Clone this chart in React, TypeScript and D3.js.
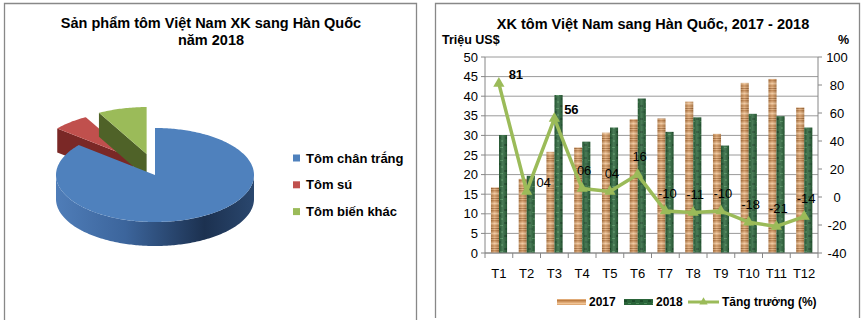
import React from 'react';
import * as d3 from 'd3';

// ---------- data ----------
const PIE_TITLE = ['Sản phẩm tôm Việt Nam XK sang Hàn Quốc', 'năm 2018'];
const PIE_LABELS = ['Tôm chân trắng', 'Tôm sú', 'Tôm biến khác'];
const PIE_VALUES = [86, 6, 8];

const BAR_TITLE = 'XK tôm Việt Nam sang Hàn Quốc, 2017 - 2018';
const LEFT_AXIS_TITLE = 'Triệu US$';
const RIGHT_AXIS_TITLE = '%';
const MONTHS = ['T1', 'T2', 'T3', 'T4', 'T5', 'T6', 'T7', 'T8', 'T9', 'T10', 'T11', 'T12'];
const SERIES = ['2017', '2018'];
const V2017 = [16.7, 18.9, 25.8, 26.9, 30.7, 34.1, 34.3, 38.6, 30.4, 43.4, 44.4, 37.1];
const V2018 = [30.1, 19.7, 40.3, 28.4, 32.0, 39.4, 30.9, 34.6, 27.4, 35.5, 34.9, 32.0];
const GROWTH = [81, 4, 56, 6, 4, 16, -10, -11, -10, -18, -21, -14];
const GROWTH_LABEL = 'Tăng trưởng (%)';

const FONT = '"Liberation Sans", Arial, sans-serif';
const PIE_COLORS = ['#4F81BD', '#C0504D', '#9BBB59'];
const PIE_WALL = ['url(#blueWall)', '#7A2826', '#4F6228'];

function fmtGrowth(v: number) {
  return v >= 0 ? String(v).padStart(2, '0') : String(v);
}

// ---------- pie (3D) ----------
function Pie3D() {
  const cx = 155, cy = 175, rx = 99, ry = 47, depth = 24, explode = 0.4;
  const pie = d3.pie<number>().sort(null).startAngle(0).endAngle(2 * Math.PI);
  const arcs = pie(PIE_VALUES);
  const pt = (a: number, ox: number, oy: number, dz = 0): [number, number] => [
    cx + ox + rx * Math.sin(a),
    cy + oy - ry * Math.cos(a) + dz,
  ];
  const line = d3.line();
  const sample = (a0: number, a1: number) => {
    const n = Math.max(2, Math.ceil(Math.abs(a1 - a0) / (Math.PI / 180)));
    return d3.range(n + 1).map((i) => a0 + ((a1 - a0) * i) / n);
  };
  const order = [1, 2, 0];
  return (
    <g>
      {order.map((i) => {
        const a = arcs[i];
        const mid = (a.startAngle + a.endAngle) / 2;
        const e = i === 0 ? 0 : explode;
        const ox = rx * e * Math.sin(mid) * 0.85;
        const oy = -ry * e * Math.cos(mid) * 1.15;
        const c: [number, number] = [cx + ox, cy + oy];
        const cd: [number, number] = [cx + ox, cy + oy + depth];
        const parts: React.ReactNode[] = [];
        const radialFill = i === 0 ? '#2B4A75' : PIE_WALL[i];
        if (Math.sin(a.startAngle) < -0.01) {
          const p = pt(a.startAngle, ox, oy);
          const pd = pt(a.startAngle, ox, oy, depth);
          parts.push(<path key="ws" d={line([c, p, pd, cd])! + 'Z'} fill={radialFill} />);
        }
        if (Math.sin(a.endAngle) > 0.01) {
          const p = pt(a.endAngle, ox, oy);
          const pd = pt(a.endAngle, ox, oy, depth);
          parts.push(<path key="we" d={line([c, p, pd, cd])! + 'Z'} fill={radialFill} />);
        }
        const w0 = Math.max(a.startAngle, Math.PI / 2);
        const w1 = Math.min(a.endAngle, (3 * Math.PI) / 2);
        if (w1 > w0) {
          const top = sample(w0, w1).map((t) => pt(t, ox, oy));
          const bot = sample(w0, w1).reverse().map((t) => pt(t, ox, oy, depth));
          parts.push(<path key="wo" d={line([...top, ...bot])! + 'Z'} fill={PIE_WALL[i]} />);
        }
        const face = [c, ...sample(a.startAngle, a.endAngle).map((t) => pt(t, ox, oy))];
        parts.push(<path key="top" d={line(face)! + 'Z'} fill={PIE_COLORS[i]} />);
        return <g key={i}>{parts}</g>;
      })}
    </g>
  );
}

// ---------- bar + line ----------
function BarLine() {
  const left = 485, right = 818, top = 57, bottom = 253;
  const yL = d3.scaleLinear().domain([0, 50]).range([bottom, top]);
  const yR = d3.scaleLinear().domain([-40, 100]).range([bottom, top]);
  const x = d3.scaleBand<string>().domain(MONTHS).range([left, right]).padding(0);
  const bw = x.bandwidth();
  const xs = d3.scaleBand<string>().domain(SERIES).range([bw * 0.215, bw * 0.795]).padding(0);
  const cxm = (m: string) => (x(m) as number) + bw / 2;
  const line = d3
    .line<number>()
    .x((_, i) => cxm(MONTHS[i]))
    .y((v) => yR(v));
  const tri = d3.symbol().type(d3.symbolTriangle).size(55)()!;
  const leftTicks = yL.ticks(10);
  const rightTicks = yR.ticks(7);
  const values = [V2017, V2018];
  const fills = ['url(#wood)', 'url(#marble)'];
  return (
    <g fontFamily={FONT}>
      <text x={653} y={29} textAnchor="middle" fontSize={14.5} fontWeight="bold">
        {BAR_TITLE}
      </text>
      <text x={442} y={44} fontSize={12.5} fontWeight="bold">
        {LEFT_AXIS_TITLE}
      </text>
      <text x={838} y={44} fontSize={12.5} fontWeight="bold">
        {RIGHT_AXIS_TITLE}
      </text>
      {leftTicks.map((t) => (
        <line key={'g' + t} x1={left} x2={right} y1={yL(t)} y2={yL(t)} stroke="#9a9a9a" strokeWidth={1} />
      ))}
      <line x1={left} x2={left} y1={top} y2={bottom} stroke="#868686" />
      {leftTicks.map((t) => (
        <g key={'l' + t}>
          <line x1={left - 4} x2={left} y1={yL(t)} y2={yL(t)} stroke="#868686" />
          <text x={left - 7} y={yL(t)} dy="0.35em" textAnchor="end" fontSize={13}>
            {t}
          </text>
        </g>
      ))}
      <line x1={right} x2={right} y1={top} y2={bottom} stroke="#868686" />
      {rightTicks.map((t) => (
        <g key={'r' + t}>
          <line x1={right} x2={right + 4} y1={yR(t)} y2={yR(t)} stroke="#868686" />
          <text x={837} y={yR(t)} dy="0.35em" textAnchor="middle" fontSize={13}>
            {t}
          </text>
        </g>
      ))}
      {SERIES.map((s, si) =>
        MONTHS.map((m, i) => {
          const bx = (x(m) as number) + (xs(s) as number);
          const by = yL(values[si][i]);
          return (
            <g key={s + m}>
              <rect x={bx} y={by} width={xs.bandwidth()} height={bottom - by} fill={fills[si]} />
              <rect x={bx} y={by} width={xs.bandwidth()} height={bottom - by} fill="url(#barShade)" />
            </g>
          );
        })
      )}
      <line x1={left} x2={right} y1={bottom} y2={bottom} stroke="#868686" />
      {d3.range(MONTHS.length + 1).map((i) => (
        <line key={'xt' + i} x1={left + i * bw} x2={left + i * bw} y1={bottom} y2={bottom + 5} stroke="#868686" />
      ))}
      {MONTHS.map((m) => (
        <text key={'xl' + m} x={cxm(m)} y={273} dy="0.35em" textAnchor="middle" fontSize={13}>
          {m}
        </text>
      ))}
      <path d={line(GROWTH)!} fill="none" stroke="#9BBB59" strokeWidth={3.5} strokeLinejoin="round" />
      {GROWTH.map((v, i) => (
        <path key={'m' + i} d={tri} transform={`translate(${cxm(MONTHS[i])},${yR(v)})`} fill="#9BBB59" />
      ))}
      {GROWTH.map((v, i) => {
        const dx = i < 3 ? 17 : 2;
        const dy = i < 3 ? -9 : -18;
        return (
          <text
            key={'lab' + i}
            x={cxm(MONTHS[i]) + dx}
            y={yR(v) + dy}
            dy="0.35em"
            textAnchor="middle"
            fontSize={13}
            fontWeight={v > 50 ? 'bold' : 'normal'}
          >
            {fmtGrowth(v)}
          </text>
        );
      })}
      <rect x={557} y={299} width={29} height={6} fill="url(#wood)" />
      <text x={589} y={302} dy="0.35em" fontSize={12} fontWeight="bold">
        {SERIES[0]}
      </text>
      <rect x={624} y={299} width={29} height={6} fill="url(#marble)" />
      <text x={656} y={302} dy="0.35em" fontSize={12} fontWeight="bold">
        {SERIES[1]}
      </text>
      <line x1={688} x2={719} y1={302} y2={302} stroke="#9BBB59" strokeWidth={3} />
      <path d={d3.symbol().type(d3.symbolTriangle).size(30)()!} transform="translate(703.5,302)" fill="#9BBB59" />
      <text x={722} y={302} dy="0.35em" fontSize={12} fontWeight="bold">
        {GROWTH_LABEL}
      </text>
    </g>
  );
}

export default function App() {
  return (
    <svg
      width={863}
      height={320}
      style={{ position: 'absolute', left: 0, top: 0, background: '#fff' }}
      fontFamily={FONT}
    >
      <defs>
        <linearGradient id="blueWall" x1="0" x2="1" y1="0" y2="0">
          <stop offset="0%" stopColor="#4F7DB8" />
          <stop offset="35%" stopColor="#3C659C" />
          <stop offset="75%" stopColor="#1C3150" />
          <stop offset="100%" stopColor="#2A476E" />
        </linearGradient>
        <pattern id="wood" patternUnits="userSpaceOnUse" width={8} height={10}>
          <rect width={8} height={10} fill="#E0AA76" />
          <rect y={0} width={8} height={1.5} fill="#BD7E45" />
          <rect y={3} width={8} height={1} fill="#F0C496" />
          <rect y={5} width={8} height={2} fill="#CC9058" />
          <rect y={8} width={8} height={1} fill="#AE713C" />
        </pattern>
        <pattern id="marble" patternUnits="userSpaceOnUse" width={8} height={13}>
          <rect width={8} height={13} fill="#2A6439" />
          <rect x={0} y={1} width={3} height={2} fill="#1C4A29" />
          <rect x={4} y={4} width={3} height={1} fill="#4A8A58" />
          <rect x={1} y={7} width={4} height={2} fill="#205531" />
          <rect x={5} y={10} width={2} height={2} fill="#3F7D4D" />
        </pattern>
        <linearGradient id="barShade" x1="0" x2="1" y1="0" y2="0">
          <stop offset="0%" stopColor="#000" stopOpacity={0.15} />
          <stop offset="45%" stopColor="#fff" stopOpacity={0.15} />
          <stop offset="100%" stopColor="#000" stopOpacity={0.18} />
        </linearGradient>
      </defs>
      <path d="M4.5,320 V3.5 H416.5 V320" fill="none" stroke="#888" strokeWidth={1.3} />
      <path d="M435.5,318 V3.5 H859.5 V318" fill="none" stroke="#888" strokeWidth={1.3} />
      <text x={211} y={28} textAnchor="middle" fontSize={14.5} fontWeight="bold">
        {PIE_TITLE[0]}
      </text>
      <text x={211} y={45} textAnchor="middle" fontSize={14.5} fontWeight="bold">
        {PIE_TITLE[1]}
      </text>
      <Pie3D />
      {PIE_LABELS.map((l, i) => (
        <g key={l}>
          <rect x={293} y={154.5 + i * 26.8} width={7} height={7} fill={PIE_COLORS[i]} />
          <text x={306} y={158 + i * 26.8} dy="0.35em" fontSize={13} fontWeight="bold">
            {l}
          </text>
        </g>
      ))}
      <BarLine />
    </svg>
  );
}
